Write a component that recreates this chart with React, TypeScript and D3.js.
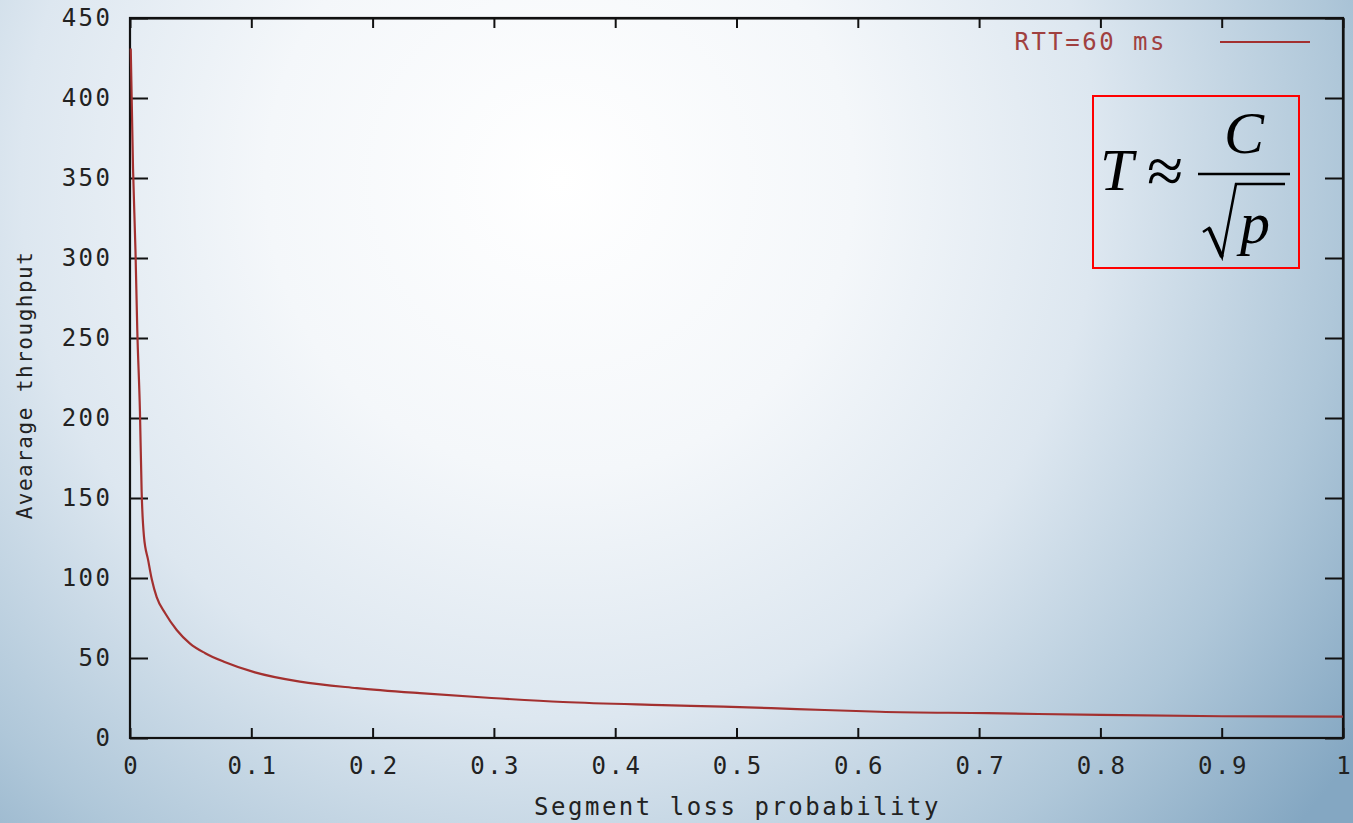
import React, { useEffect, useRef } from 'react'
import * as d3 from 'd3'

// loss probability p vs average throughput
const lossProb = [0.0006, 0.0025, 0.0045, 0.006, 0.0082, 0.0096, 0.0115, 0.015, 0.018, 0.022, 0.029, 0.0385, 0.0495, 0.062, 0.078, 0.103, 0.14, 0.187, 0.239, 0.298, 0.357, 0.439, 0.489, 0.55, 0.618, 0.707, 0.8, 0.9, 1.0]
const throughput = [431, 356, 305, 255, 204, 154, 126, 111, 99, 88, 78, 67.5, 59, 53, 47.5, 41, 35.2, 31.2, 28, 25, 22.5, 20.6, 19.6, 18.1, 16.4, 15.5, 14.4, 13.6, 13.3]
const xTicks = [0, 0.1, 0.2, 0.3, 0.4, 0.5, 0.6, 0.7, 0.8, 0.9, 1]
const yTicks = [0, 50, 100, 150, 200, 250, 300, 350, 400, 450]
const seriesName = 'RTT=60 ms'
const xTitle = 'Segment loss probability'
const yTitle = 'Avearage throughput'

export default function App(){
  const svgRef = useRef<SVGSVGElement>(null)

  useEffect(()=>{
    const width=1353, height=823, m={top:18,right:10,bottom:85,left:130}
    const svg=d3.select(svgRef.current).attr('viewBox',`0 0 ${width} ${height}`).attr('width',width).attr('height',height)
    svg.selectAll('*').remove()

    const defs=svg.append('defs')
    const grad=defs.append('radialGradient').attr('id','bg').attr('gradientUnits','userSpaceOnUse')
      .attr('cx',560).attr('cy',180).attr('r',980)
    ;[[0,'#ffffff'],[0.3,'#f4f7fa'],[0.55,'#dde7f0'],[0.8,'#afc7d9'],[1,'#84a7c2']].forEach(([o,c])=>
      grad.append('stop').attr('offset',o as number).attr('stop-color',c as string))
    svg.append('rect').attr('width',width).attr('height',height).attr('fill','url(#bg)')

    const x=d3.scaleLinear().domain([0,1]).range([m.left,width-m.right])
    const y=d3.scaleLinear().domain([0,450]).range([height-m.bottom,m.top])
    const font='"DejaVu Sans Mono", monospace'
    const fmt=d3.format('~g')

    const axB=svg.append('g').attr('transform',`translate(0,${y(0)})`)
      .call(d3.axisBottom(x).tickValues(xTicks).tickFormat(d=>fmt(d as number)).tickSizeInner(-10).tickSizeOuter(0).tickPadding(19))
    const axL=svg.append('g').attr('transform',`translate(${x(0)},0)`)
      .call(d3.axisLeft(y).tickValues(yTicks).tickSizeInner(-18).tickSizeOuter(0).tickPadding(20))
    svg.append('g').attr('transform',`translate(0,${y(450)})`)
      .call(d3.axisTop(x).tickValues(xTicks).tickFormat(()=>'').tickSizeInner(-10).tickSizeOuter(0))
    svg.append('g').attr('transform',`translate(${x(1)},0)`)
      .call(d3.axisRight(y).tickValues(yTicks).tickFormat(()=>'').tickSizeInner(-18).tickSizeOuter(0))

    svg.selectAll('.domain').attr('stroke','#111').attr('stroke-width',2.2)
    svg.selectAll('.tick line').attr('stroke','#111').attr('stroke-width',2)
    axB.selectAll('text').attr('font-family',font).attr('font-size',24).attr('letter-spacing',2.5).attr('dx',1.2).attr('fill','#222')
    axL.selectAll('text').attr('font-family',font).attr('font-size',24).attr('letter-spacing',2.5).attr('dx',2.5).attr('fill','#222')
    axB.select('.domain').remove(); axL.select('.domain').remove()
    svg.append('rect').attr('x',x(0)).attr('y',y(450)).attr('width',x(1)-x(0)).attr('height',y(0)-y(450))
      .attr('fill','none').attr('stroke','#111').attr('stroke-width',2.2)

    // axis titles
    svg.append('text').attr('x',(x(0)+x(1))/2+1).attr('y',815).attr('text-anchor','middle')
      .attr('font-family',font).attr('font-size',24).attr('letter-spacing',2.5).attr('fill','#222').text(xTitle)
    svg.append('text').attr('x',0).attr('y',0).attr('text-anchor','middle')
      .attr('transform',`translate(32,385) rotate(-90)`)
      .attr('font-family',font).attr('font-size',21).attr('letter-spacing',1.5).attr('fill','#222').text(yTitle)

    // curve
    const pts=lossProb.map((p,i)=>[p,throughput[i]] as [number,number])
    const line=d3.line<[number,number]>().x(d=>x(d[0])).y(d=>y(d[1])).curve(d3.curveMonotoneX)
    svg.append('path').attr('d',line(pts)).attr('fill','none').attr('stroke','#a3302f').attr('stroke-width',2.2)

    // legend
    svg.append('text').attr('x',1167).attr('y',50).attr('text-anchor','end')
      .attr('font-family',font).attr('font-size',24).attr('letter-spacing',2.5).attr('fill','#a04040').text(seriesName)
    svg.append('line').attr('x1',1220).attr('x2',1310).attr('y1',42).attr('y2',42).attr('stroke','#a3302f').attr('stroke-width',2)

    // formula box
    const g=svg.append('g')
    g.append('rect').attr('x',1093).attr('y',96).attr('width',206).attr('height',172)
      .attr('fill','none').attr('stroke','#ff0000').attr('stroke-width',2)
    const serif='"Liberation Serif", "Times New Roman", serif'
    g.append('text').attr('x',1100).attr('y',190).attr('font-family',serif).attr('font-style','italic').attr('font-size',60).attr('fill','#000').text('T')
    g.append('text').attr('x',1147).attr('y',193).attr('font-family',serif).attr('font-size',66).attr('fill','#000').text('≈')
    g.append('line').attr('x1',1198).attr('x2',1290).attr('y1',174).attr('y2',174).attr('stroke','#000').attr('stroke-width',2.5)
    g.append('text').attr('x',1244).attr('y',153).attr('text-anchor','middle').attr('font-family',serif).attr('font-style','italic').attr('font-size',60).attr('fill','#000').text('C')
    g.append('path').attr('d','M1203,232 L1209,228 L1222,257 L1236,184 L1285,184')
      .attr('fill','none').attr('stroke','#000').attr('stroke-width',2.5).attr('stroke-linejoin','miter')
    g.append('path').attr('d','M1209,228 L1222,257').attr('stroke','#000').attr('stroke-width',4)
    g.append('text').attr('x',1240).attr('y',243).attr('font-family',serif).attr('font-style','italic').attr('font-size',60).attr('fill','#000').text('p')
  },[])

  return (<div style={{position:'absolute',left:0,top:0}}><svg ref={svgRef} style={{display:'block'}}></svg></div>)
}
